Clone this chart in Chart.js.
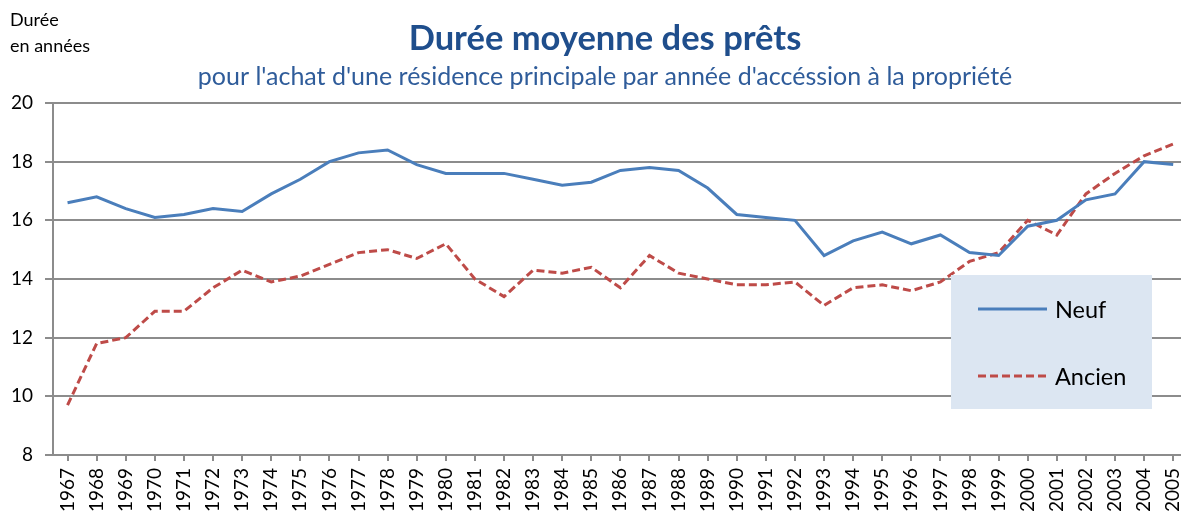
<!DOCTYPE html>
<html lang="fr">
<head>
  <meta charset="UTF-8" />
  <title>Durée moyenne des prêts</title>
  <script src="https://cdn.jsdelivr.net/npm/chart.js"></script>
  <style>
    html, body { margin: 0; padding: 0; background: #fff; overflow: hidden; }
    .chart-box { position: relative; width: 1203px; height: 511px; }
  </style>
</head>
<body>
  <div class="chart-box">
    <canvas id="dureeChart"></canvas>
  </div>

  <script>
    // Données
    const annees = ['1967', '1968', '1969', '1970', '1971', '1972', '1973', '1974', '1975', '1976',
                    '1977', '1978', '1979', '1980', '1981', '1982', '1983', '1984', '1985', '1986',
                    '1987', '1988', '1989', '1990', '1991', '1992', '1993', '1994', '1995', '1996',
                    '1997', '1998', '1999', '2000', '2001', '2002', '2003', '2004', '2005'];
    const neuf   = [16.6, 16.8, 16.4, 16.1, 16.2, 16.4, 16.3, 16.9, 17.4, 18.0,
                    18.3, 18.4, 17.9, 17.6, 17.6, 17.6, 17.4, 17.2, 17.3, 17.7,
                    17.8, 17.7, 17.1, 16.2, 16.1, 16.0, 14.8, 15.3, 15.6, 15.2,
                    15.5, 14.9, 14.8, 15.8, 16.0, 16.7, 16.9, 18.0, 17.9];
    const ancien = [9.7, 11.8, 12.0, 12.9, 12.9, 13.7, 14.3, 13.9, 14.1, 14.5,
                    14.9, 15.0, 14.7, 15.2, 14.0, 13.4, 14.3, 14.2, 14.4, 13.7,
                    14.8, 14.2, 14.0, 13.8, 13.8, 13.9, 13.1, 13.7, 13.8, 13.6,
                    13.9, 14.6, 14.9, 16.0, 15.5, 16.9, 17.6, 18.2, 18.6];
    const yTicks = [8, 10, 12, 14, 16, 18, 20];

    const titre = 'Durée moyenne des prêts';
    const sousTitre = "pour l'achat d'une résidence principale par année d'accéssion à la propriété";
    const uniteY = ['Durée', 'en années'];

    const gridColor = '#8c8c8c';

    // Titres et légende dessinés à la main (position comme sur l'original)
    const decor = {
      id: 'decor',
      afterDraw(chart) {
        const ctx = chart.ctx;
        ctx.save();
        ctx.textBaseline = 'middle';

        ctx.fillStyle = '#000';
        ctx.textAlign = 'left';
        ctx.font = '18px Lato';
        ctx.fillText(uniteY[0], 10, 20);
        ctx.fillText(uniteY[1], 10, 46);

        ctx.textAlign = 'center';
        ctx.fillStyle = '#1f4e8c';
        ctx.font = 'bold 34.5px Lato';
        ctx.fillText(titre, 605, 39);
        ctx.fillStyle = '#2f5c9a';
        ctx.font = '25px Lato';
        ctx.fillText(sousTitre, 605, 77);

        // legend box
        ctx.fillStyle = '#dce6f2';
        ctx.fillRect(951, 275, 201, 134);
        const rows = [309, 376];
        chart.data.datasets.forEach((ds, i) => {
          ctx.beginPath();
          ctx.strokeStyle = ds.borderColor;
          ctx.lineWidth = ds.borderWidth;
          ctx.setLineDash(ds.borderDash || []);
          ctx.moveTo(978, rows[i]);
          ctx.lineTo(1047, rows[i]);
          ctx.stroke();
          ctx.setLineDash([]);
          ctx.fillStyle = '#000';
          ctx.textAlign = 'left';
          ctx.font = '23.5px Lato';
          ctx.fillText(ds.label, 1055, rows[i] + 1);
        });
        ctx.restore();
      }
    };

    const ctx1 = document.getElementById('dureeChart').getContext('2d');
    const dureeChart = new Chart(ctx1, {
      type: 'line',
      data: {
        labels: annees,
        datasets: [{
          label: 'Neuf',
          data: neuf,
          borderColor: '#4a7ebb',
          borderWidth: 3,
          pointRadius: 0,
          tension: 0
        }, {
          label: 'Ancien',
          data: ancien,
          borderColor: '#be4b48',
          borderWidth: 3,
          borderDash: [8, 4],
          pointRadius: 0,
          tension: 0
        }]
      },
      options: {
        responsive: true,
        maintainAspectRatio: false,
        animation: false,
        layout: { padding: { top: 103, left: 0, right: 0, bottom: 0 } },
        plugins: {
          legend: { display: false },
          tooltip: { enabled: false }
        },
        scales: {
          x: {
            offset: true,
            grid: {
              drawOnChartArea: false,
              drawTicks: true,
              tickLength: 6,
              color: gridColor,
              lineWidth: 2
            },
            border: { color: gridColor, width: 2 },
            ticks: {
              autoSkip: false,
              minRotation: 90,
              maxRotation: 90,
              padding: 7,
              color: '#000',
              font: { family: 'Lato', size: 19 }
            },
            afterFit(scale) { scale.height = 56; }
          },
          y: {
            min: 8,
            max: 20,
            afterBuildTicks(scale) { scale.ticks = yTicks.map(v => ({ value: v })); },
            grid: {
              color: gridColor,
              lineWidth: 2,
              tickLength: 8
            },
            border: { color: gridColor, width: 2 },
            ticks: {
              padding: 12,
              color: '#000',
              font: { family: 'Lato', size: 19 }
            },
            afterFit(scale) { scale.width = 53; }
          }
        }
      },
      plugins: [decor]
    });
  </script>
</body>
</html>
